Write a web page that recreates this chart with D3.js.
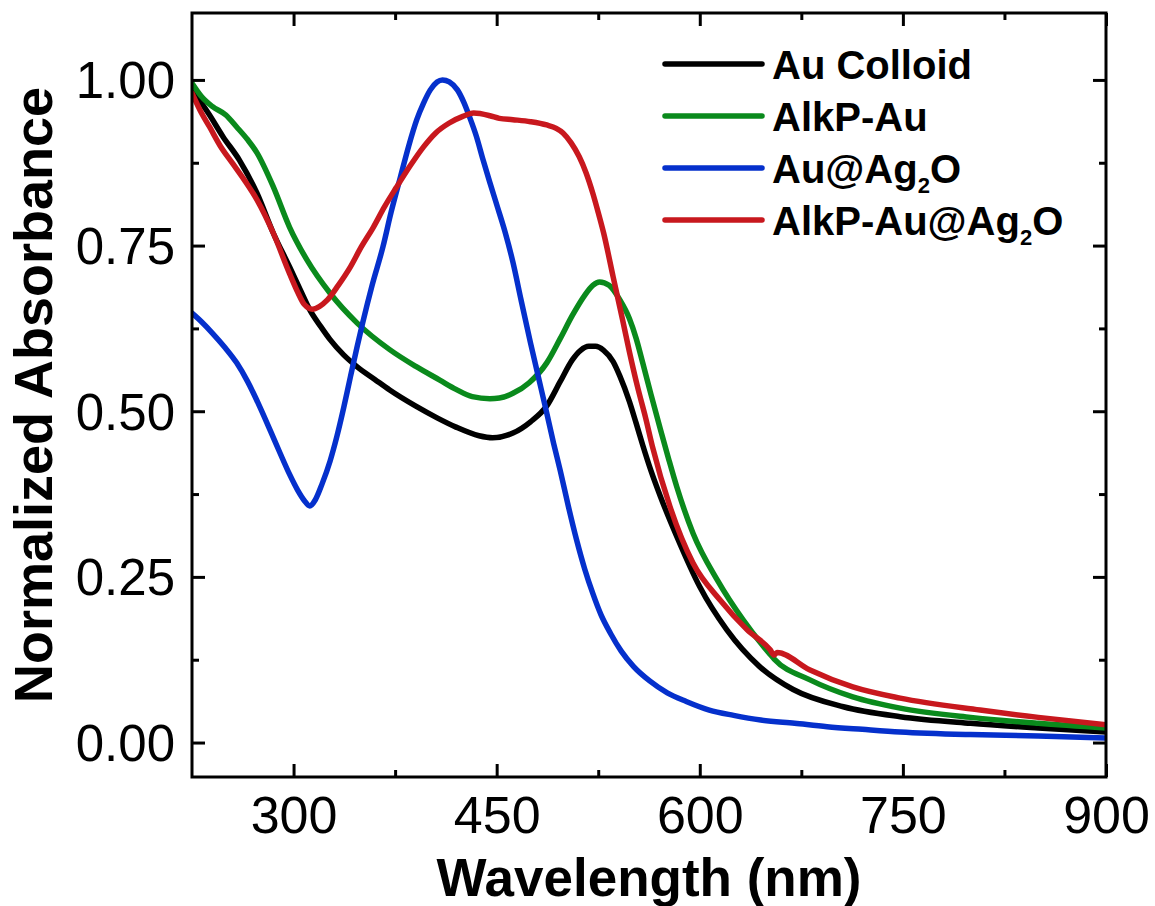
<!DOCTYPE html>
<html>
<head>
<meta charset="utf-8">
<script src="https://cdn.jsdelivr.net/npm/d3@7"></script>
<style>
  html, body { margin: 0; padding: 0; background: #fff; }
  svg { display: block; }
  text { font-family: "Liberation Sans", Arial, Helvetica, sans-serif; fill: #000; }
</style>
</head>
<body>
<svg id="chart" width="1155" height="906"></svg>
<script>
// UV-Vis spectra, [wavelength (nm), normalized absorbance]
const auColloid = [
  [225,0.985],[237,0.95],[248,0.914],[260,0.879],[273,0.829],[285,0.769],[297,0.718],
  [305,0.683],[312,0.653],[320,0.628],[327,0.608],[337,0.585],[347,0.567],[360,0.548],
  [371,0.532],[390,0.508],[406,0.49],[420,0.476],[437,0.463],[447,0.460],[462,0.467],
  [475,0.484],[487,0.508],[497,0.545],[506,0.578],[512,0.592],[518,0.598],[523,0.598],
  [529,0.592],[536,0.575],[541,0.553],[548,0.515],[553,0.482],[558,0.448],[564,0.41],
  [571,0.371],[583,0.311],[600,0.235],[620,0.170],[644,0.115],[669,0.080],[706,0.054],
  [748,0.039],[800,0.029],[850,0.022],[900,0.016]
];
const alkpAu = [
  [225,0.995],[232,0.975],[240,0.96],[250,0.947],[258,0.929],[266,0.91],[273,0.89],
  [285,0.839],[297,0.778],[310,0.728],[327,0.678],[347,0.633],[371,0.593],[390,0.568],
  [408,0.547],[420,0.533],[432,0.522],[445,0.519],[452,0.520],[462,0.527],[474,0.543],
  [487,0.573],[497,0.61],[506,0.645],[515,0.675],[521,0.69],[526,0.695],[533,0.69],
  [541,0.668],[548,0.64],[553,0.61],[558,0.572],[564,0.525],[571,0.472],[577,0.428],
  [583,0.386],[595,0.316],[613,0.245],[632,0.185],[652,0.133],[655,0.126],[681,0.095],
  [713,0.069],[748,0.052],[800,0.038],[850,0.029],[900,0.022]
];
const auAg2O = [
  [225,0.648],[232,0.635],[240,0.618],[249,0.597],[258,0.573],[266,0.545],[275,0.507],
  [283,0.47],[290,0.437],[297,0.405],[303,0.381],[308,0.365],[312,0.357],[316,0.366],
  [321,0.39],[327,0.425],[332,0.462],[337,0.505],[342,0.552],[347,0.598],[351,0.633],
  [358,0.69],[366,0.748],[372,0.8],[379,0.854],[385,0.9],[391,0.94],[396,0.965],
  [401,0.985],[406,0.997],[410,1.0],[415,0.997],[421,0.985],[426,0.965],[430,0.944],
  [435,0.915],[440,0.879],[445,0.845],[450,0.812],[456,0.772],[462,0.725],[468,0.668],
  [475,0.603],[481,0.55],[487,0.497],[492,0.452],[497,0.41],[503,0.356],[509,0.306],
  [515,0.262],[521,0.225],[527,0.193],[534,0.165],[542,0.138],[551,0.115],[563,0.093],
  [576,0.075],[590,0.062],[607,0.049],[625,0.041],[645,0.034],[670,0.029],[694,0.024],
  [720,0.02],[748,0.016],[800,0.012],[850,0.01],[900,0.007]
];
const alkpAuAg2O = [
  [225,0.98],[232,0.95],[238,0.929],[246,0.9],[255,0.874],[264,0.848],[273,0.819],
  [285,0.769],[297,0.708],[303,0.68],[308,0.661],[314,0.654],[319,0.658],[325,0.668],
  [333,0.69],[342,0.718],[350,0.748],[359,0.778],[367,0.808],[376,0.838],[386,0.87],
  [396,0.899],[405,0.92],[415,0.935],[425,0.945],[433,0.950],[445,0.946],[452,0.942],
  [462,0.940],[475,0.937],[487,0.932],[494,0.927],[499,0.92],[505,0.905],[511,0.884],
  [516,0.86],[521,0.829],[525,0.8],[529,0.769],[536,0.703],[543,0.638],[548,0.59],
  [554,0.537],[560,0.49],[565,0.447],[578,0.356],[595,0.271],[615,0.215],[635,0.170],
  [652,0.140],[655,0.132],[657,0.136],[681,0.110],[713,0.084],[748,0.067],[807,0.049],
  [850,0.038],[900,0.027]
];

const seriesNames  = ["Au Colloid", "AlkP-Au", "Au@Ag2O", "AlkP-Au@Ag2O"];
const seriesColors = ["#000000", "#0a8a1c", "#0530cc", "#c8181e"];
const seriesData   = [auColloid, alkpAu, auAg2O, alkpAuAg2O];

const xDomain = [225, 900];
const yDomain = [-0.052, 1.101];
const xMajor = [300, 450, 600, 750, 900];
const xMinor = [375, 525, 675, 825];
const yMajor = [0, 0.25, 0.5, 0.75, 1.0];
const yMinor = [0.125, 0.375, 0.625, 0.875];

const margin = { left: 192, top: 13, right: 49, bottom: 129 };
const W = 1155, H = 906;
const pw = W - margin.left - margin.right;
const ph = H - margin.top - margin.bottom;

const svg = d3.select("#chart");
const g = svg.append("g").attr("transform", `translate(${margin.left},${margin.top})`);

const x = d3.scaleLinear().domain(xDomain).range([0, pw]);
const y = d3.scaleLinear().domain(yDomain).range([ph, 0]);

svg.append("defs").append("clipPath").attr("id", "plot-clip")
  .append("rect").attr("x", 0).attr("y", 0).attr("width", pw).attr("height", ph);

// spectra
const line = d3.line()
  .x(d => x(d[0]))
  .y(d => y(d[1]))
  .curve(d3.curveMonotoneX);

const curves = g.append("g").attr("clip-path", "url(#plot-clip)");
seriesData.forEach((data, i) => {
  curves.append("path")
    .datum(data)
    .attr("fill", "none")
    .attr("stroke", seriesColors[i])
    .attr("stroke-width", 5.5)
    .attr("stroke-linejoin", "round")
    .attr("stroke-linecap", "round")
    .attr("d", line);
});

// axes with inward ticks on all four sides
const MAJ = 13, MIN = 7;
function styleAxis(sel) {
  sel.select(".domain").remove();
  sel.selectAll(".tick line").attr("stroke", "#000").attr("stroke-width", 3);
}
g.append("g").attr("transform", `translate(0,${ph})`)
  .call(d3.axisBottom(x).tickValues(xMajor).tickSize(-MAJ).tickPadding(19).tickFormat(d3.format("d")))
  .call(styleAxis)
  .call(s => s.selectAll("text").style("font-size", "52px"));
g.append("g").attr("transform", `translate(0,${ph})`)
  .call(d3.axisBottom(x).tickValues(xMinor).tickSize(-MIN).tickFormat(""))
  .call(styleAxis);
g.append("g")
  .call(d3.axisTop(x).tickValues(xMajor).tickSize(-MAJ).tickFormat(""))
  .call(styleAxis);
g.append("g")
  .call(d3.axisTop(x).tickValues(xMinor).tickSize(-MIN).tickFormat(""))
  .call(styleAxis);

g.append("g")
  .call(d3.axisLeft(y).tickValues(yMajor).tickSize(-MAJ).tickPadding(17).tickFormat(d3.format(".2f")))
  .call(styleAxis)
  .call(s => s.selectAll("text").style("font-size", "51px").attr("dy", "0.35em"));
g.append("g")
  .call(d3.axisLeft(y).tickValues(yMinor).tickSize(-MIN).tickFormat(""))
  .call(styleAxis);
g.append("g").attr("transform", `translate(${pw},0)`)
  .call(d3.axisRight(y).tickValues(yMajor).tickSize(-MAJ).tickFormat(""))
  .call(styleAxis);
g.append("g").attr("transform", `translate(${pw},0)`)
  .call(d3.axisRight(y).tickValues(yMinor).tickSize(-MIN).tickFormat(""))
  .call(styleAxis);

// frame
g.append("rect")
  .attr("x", 0).attr("y", 0).attr("width", pw).attr("height", ph)
  .attr("fill", "none").attr("stroke", "#000").attr("stroke-width", 3);

// axis titles
svg.append("text")
  .attr("x", margin.left + pw / 2).attr("y", 896)
  .attr("text-anchor", "middle")
  .style("font-size", "53px").style("font-weight", "bold")
  .text("Wavelength (nm)");
svg.append("text")
  .attr("transform", `translate(52,${margin.top + ph / 2}) rotate(-90)`)
  .attr("text-anchor", "middle")
  .style("font-size", "54px").style("font-weight", "bold")
  .text("Normalized Absorbance");

// legend
const legend = svg.append("g").attr("transform", "translate(665,64)");
seriesNames.forEach((name, i) => {
  const row = legend.append("g").attr("transform", `translate(0,${i * 52})`);
  row.append("line")
    .attr("x1", 0).attr("x2", 97).attr("y1", 0).attr("y2", 0)
    .attr("stroke", seriesColors[i]).attr("stroke-width", 5.5).attr("stroke-linecap", "round");
  const t = row.append("text")
    .attr("x", 107).attr("y", 15)
    .style("font-size", "40px").style("font-weight", "bold");
  const m = name.match(/^(.*Ag)2(O)$/);
  if (m) {
    t.append("tspan").text(m[1]);
    t.append("tspan").attr("dy", 10).style("font-size", "22px").text("2");
    t.append("tspan").attr("dy", -10).text(m[2]);
  } else {
    t.text(name);
  }
});
</script>
</body>
</html>
